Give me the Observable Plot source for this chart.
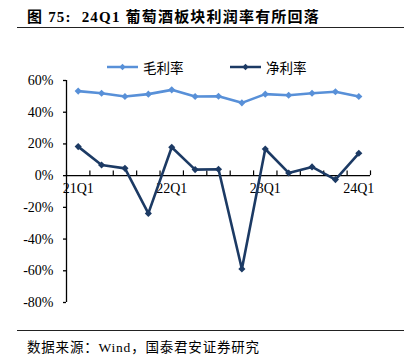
<!DOCTYPE html>
<html><head><meta charset="utf-8">
<script src="https://cdn.jsdelivr.net/npm/d3@7"></script>
<script src="https://cdn.jsdelivr.net/npm/@observablehq/plot@0.6"></script>
<style>
body{margin:0;background:#fff;}
#wrap{position:relative;width:404px;height:360px;overflow:hidden;font-family:"Liberation Serif","Noto Sans CJK SC",serif;color:#000;}
#title{position:absolute;left:27px;top:5px;font-size:15px;font-weight:bold;white-space:nowrap;letter-spacing:1.2px;}
.hr{position:absolute;left:17px;right:0;height:0;border-top:1.6px solid #222;}
.leg{position:absolute;top:58px;height:18px;display:flex;align-items:center;font-size:13.5px;font-family:"Noto Sans CJK SC",sans-serif;}
.leg svg{margin-right:5px;}
#chart{position:absolute;left:0;top:70px;}
#source{position:absolute;left:27px;top:336px;font-size:13.5px;white-space:nowrap;letter-spacing:0.8px;}
</style></head>
<body><div id="wrap">
<div id="title">图 75:&nbsp; 24Q1 葡萄酒板块利润率有所回落</div>
<div class="hr" style="top:27px"></div>
<div id="legend"></div>
<div id="chart"></div>
<div class="hr" style="top:330px"></div>
<div id="source">数据来源：Wind，国泰君安证券研究</div>
</div>
<script>
const quarters = ["21Q1","21Q2","21Q3","21Q4","22Q1","22Q2","22Q3","22Q4","23Q1","23Q2","23Q3","23Q4","24Q1"];
const grossMargin = [53.3,52.0,49.9,51.4,54.1,49.9,50.1,45.9,51.4,50.7,52.0,52.9,49.9];
const netMargin = [18.3,6.7,4.6,-23.8,17.9,3.8,4.0,-58.9,16.8,1.7,5.5,-2.5,14.1];
const yTicks = [60,40,20,0,-20,-40,-60,-80];
const xLabels = ["21Q1","22Q1","23Q1","24Q1"];
const seriesNames = ["毛利率","净利率"];
const seriesColors = ["#5890D8","#1C3A64"];
const legendLeft = [107, 230];

const rows = [];
[grossMargin, netMargin].forEach((arr, s) => arr.forEach((v, i) => rows.push({i, q: quarters[i], v, s: seriesNames[s]})));

// legend
const leg = document.getElementById("legend");
seriesNames.forEach((name, k) => {
  const d = document.createElement("div");
  d.className = "leg";
  d.style.left = legendLeft[k] + "px";
  d.innerHTML = `<svg width="31" height="10"><line x1="0" y1="5" x2="31" y2="5" stroke="${seriesColors[k]}" stroke-width="2.5"/><path d="M15.5 1.8L18.7 5L15.5 8.2L12.3 5Z" fill="${seriesColors[k]}"/></svg><span>${name}</span>`;
  leg.appendChild(d);
});

const n = quarters.length;
const chart = Plot.plot({
  width: 404, height: 245,
  marginTop: 10, marginBottom: 13, marginLeft: 66, marginRight: 34,
  x: {type: "linear", domain: [-0.5, n - 0.5], axis: null},
  y: {domain: [-80, 60], axis: null},
  color: {domain: seriesNames, range: seriesColors},
  style: {fontFamily: "Liberation Serif", fontSize: "14px", color: "#000", background: "transparent", overflow: "visible"},
  marks: [
    Plot.ruleX([-0.5], {y1: -80, y2: 60, stroke: "#000", strokeWidth: 1.3}),
    Plot.axisY(yTicks, {label: null, tickSize: 3, tickPadding: 10, tickFormat: d => d + "%", fontSize: 14, stroke: "#000", strokeWidth: 1.3}),
    Plot.ruleY([0], {x1: -0.5, x2: n - 0.5, stroke: "#000", strokeWidth: 1.3}),
    Plot.ruleX(d3.range(n + 1).map(k => k - 0.5), {y1: 0, y2: 3, stroke: "#000", strokeWidth: 1.2}),
    Plot.text(xLabels, {x: d => quarters.indexOf(d), y: 0, text: d => d, dy: 13, fontSize: 14, fill: "#000"}),
    Plot.line(rows, {x: "i", y: "v", z: "s", stroke: "s", strokeWidth: 2.6}),
    Plot.dot(rows, {x: "i", y: "v", symbol: "diamond2", r: 3.2, fill: "s", stroke: "none"})
  ]
});
document.getElementById("chart").appendChild(chart);
</script>
</body></html>
